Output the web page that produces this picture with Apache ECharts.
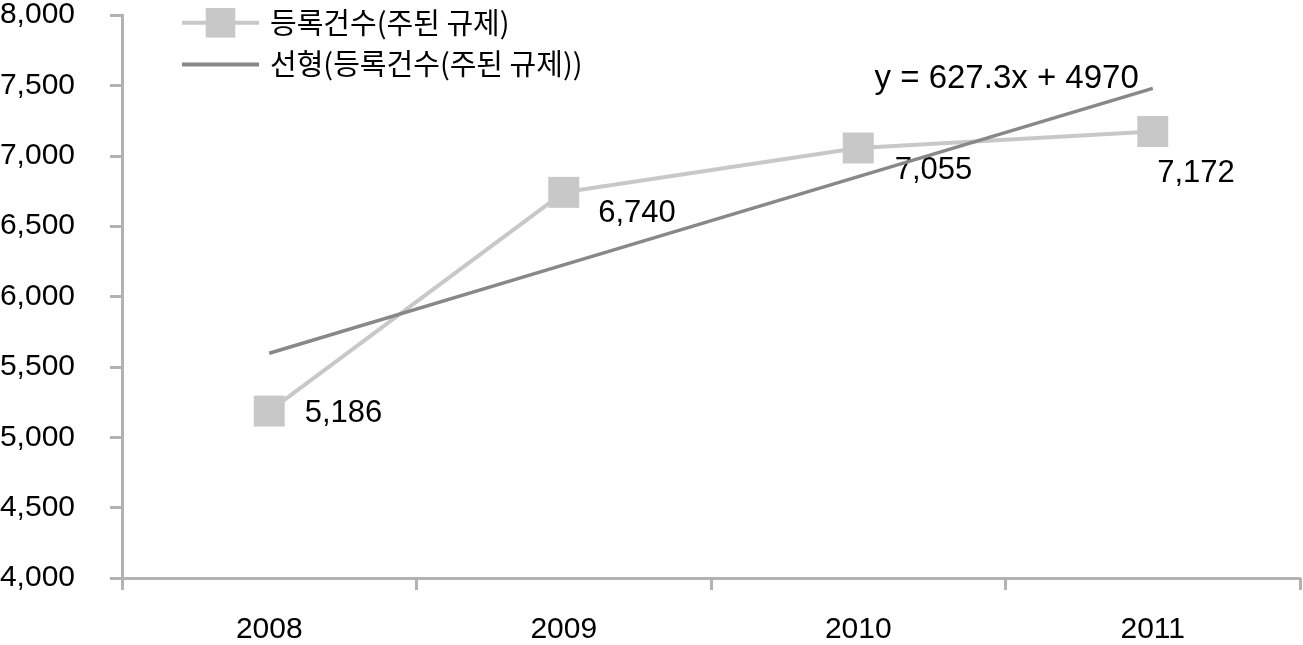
<!DOCTYPE html>
<html><head><meta charset="utf-8">
<script src="https://cdn.jsdelivr.net/npm/echarts@6/dist/echarts.min.js"></script>
<style>html,body{margin:0;padding:0;background:#fff}#c{width:1303px;height:645px}</style>
</head><body><div id="c"></div>
<script>
const categories = ['2008', '2009', '2010', '2011'];
const seriesName = '등록건수(주된 규제)';
const trendName = '선형(등록건수(주된 규제))';
const values = [5186, 6740, 7055, 7172];
const trendValues = [5597, 6225, 6852, 7479];
const equationText = 'y = 627.3x + 4970';
const labelOffsets = [[15, 2], [14, 21], [16, 22], [-16, 42]];

const numFont = '"Liberation Sans", Arial, sans-serif';
const chart = echarts.init(document.getElementById('c'), null, {renderer: 'canvas'});
chart.setOption({
  animation: false,
  backgroundColor: '#fff',
  grid: {left: 122, right: 3, top: 15, bottom: 67, containLabel: false, outerBoundsMode: 'none'},
  legend: {
    orient: 'vertical', left: 175, top: 3, itemWidth: 77, itemHeight: 37, itemGap: 12,
    textStyle: {fontFamily: '"Noto Sans CJK KR", sans-serif', fontSize: 29, color: '#000', padding: [0, 0, 0, 6]},
    lineStyle: {width: 4},
    data: [seriesName, {name: trendName, itemStyle: {opacity: 0}}]
  },
  xAxis: {
    type: 'category', data: categories, boundaryGap: true,
    axisLine: {lineStyle: {color: '#b2b2b2', width: 3}},
    axisTick: {show: true, length: 12, lineStyle: {color: '#b2b2b2', width: 3}},
    axisLabel: {fontFamily: numFont, fontSize: 30, color: '#000', margin: 37}
  },
  yAxis: {
    type: 'value', min: 4000, max: 8000, interval: 500,
    axisLine: {show: true, lineStyle: {color: '#b2b2b2', width: 3}},
    axisTick: {show: true, length: 12, lineStyle: {color: '#b2b2b2', width: 3}},
    splitLine: {show: false},
    axisLabel: {fontFamily: numFont, fontSize: 30, color: '#000', margin: 47,
      formatter: v => v.toLocaleString('en-US')}
  },
  series: [
    {
      name: seriesName, type: 'line', data: values.map((v, i) => ({
        value: v,
        label: {show: true, position: 'right', offset: labelOffsets[i]}
      })),
      symbol: 'rect', symbolSize: 31, showAllSymbol: true,
      lineStyle: {color: '#c8c8c8', width: 4},
      itemStyle: {color: '#c8c8c8'},
      label: {fontFamily: numFont, fontSize: 31, color: '#000',
        formatter: p => p.value.toLocaleString('en-US')},
      z: 3
    },
    {
      name: trendName, type: 'line', data: trendValues,
      symbol: 'none', showSymbol: false,
      lineStyle: {color: '#888888', width: 3.5},
      itemStyle: {color: '#888888'},
      endLabel: {show: true, formatter: equationText, align: 'right', distance: 0, offset: [-14, -9],
        fontFamily: numFont, fontSize: 33, color: '#000'},
      z: 4
    }
  ]
});
</script></body></html>
